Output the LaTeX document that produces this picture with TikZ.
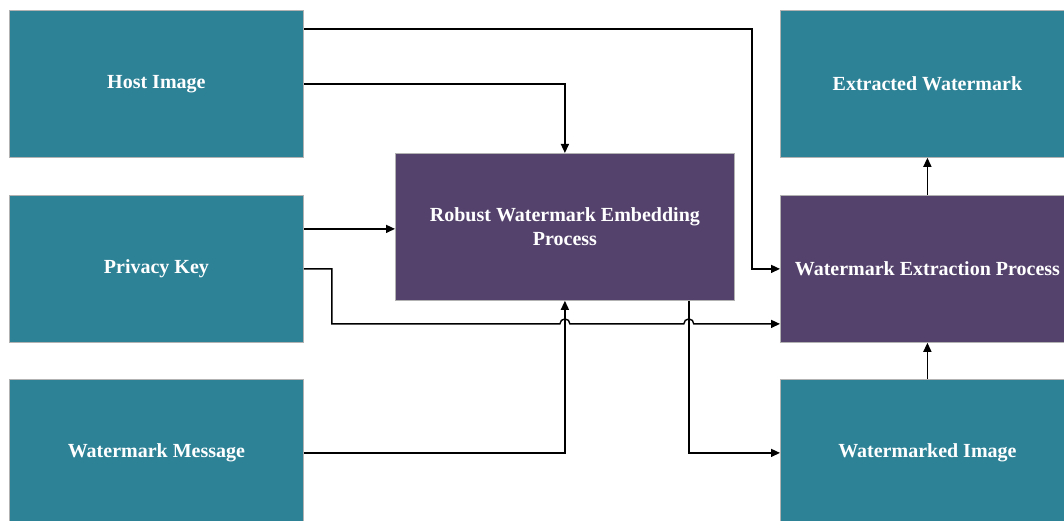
\documentclass[tikz,border=0pt]{standalone}
\usepackage{fontspec}
\setmainfont{Liberation Serif}
\usetikzlibrary{arrows.meta,calc}
\definecolor{tealbox}{RGB}{46,130,150}
\definecolor{purplebox}{RGB}{84,66,108}
\begin{document}
\begin{tikzpicture}[x=1pt,y=1pt,
  box/.style={draw=gray!60, line width=0.8pt, minimum width=294pt, minimum height=147pt,
    inner sep=0pt, anchor=north west, text=white,
    font=\bfseries\fontsize{20}{24}\selectfont, align=center},
  tbox/.style={box, fill=tealbox},
  pbox/.style={box, fill=purplebox},
  conn/.style={line width=1.4pt, -{Triangle[length=9pt,width=8pt]}}]
\clip (0,0) rectangle (1064,-521);
\node[tbox] (host) at (9,-10) {Host Image};
\node[tbox] (key) at (9,-195) {Privacy Key};
\node[tbox] (msg) at (9,-379) {Watermark Message};
\node[pbox, minimum width=339pt] (embed) at (395,-153) {Robust Watermark Embedding\\Process};
\node[tbox] (extw) at (780,-10) {Extracted Watermark};
\node[pbox] (extp) at (780,-195) {Watermark Extraction Process};
\node[tbox] (wimg) at (780,-379) {Watermarked Image};
\coordinate (h1) at ([yshift=-19pt]host.north east);
\coordinate (h2) at ([xshift=-28pt]extp.west);
\coordinate (k1) at ([yshift=40pt]key.east);
\coordinate (j) at ([xshift=28pt,yshift=-55pt]key.east);
\coordinate (e2) at ([xshift=-46pt]embed.south east);
\draw[conn] (h1) -| (h2) -- (extp.west);
\draw[conn] (host.east) -| (embed.north);
\draw[conn] (k1) -- (k1 -| embed.west);
\draw[conn] (key.east) -| (j) -- ($(j -| embed.south)+(-5,0)$)
  arc[start angle=180, end angle=0, radius=5pt]
  -- ($(j -| e2)+(-5,0)$)
  arc[start angle=180, end angle=0, radius=5pt]
  -- (j -| extp.west);
\draw[conn] (msg.east) -| (embed.south);
\draw[conn] (e2) |- (wimg.west);
\draw[conn] (wimg.north) -- (extp.south);
\draw[conn] (extp.north) -- (extw.south);
\end{tikzpicture}
\end{document}
